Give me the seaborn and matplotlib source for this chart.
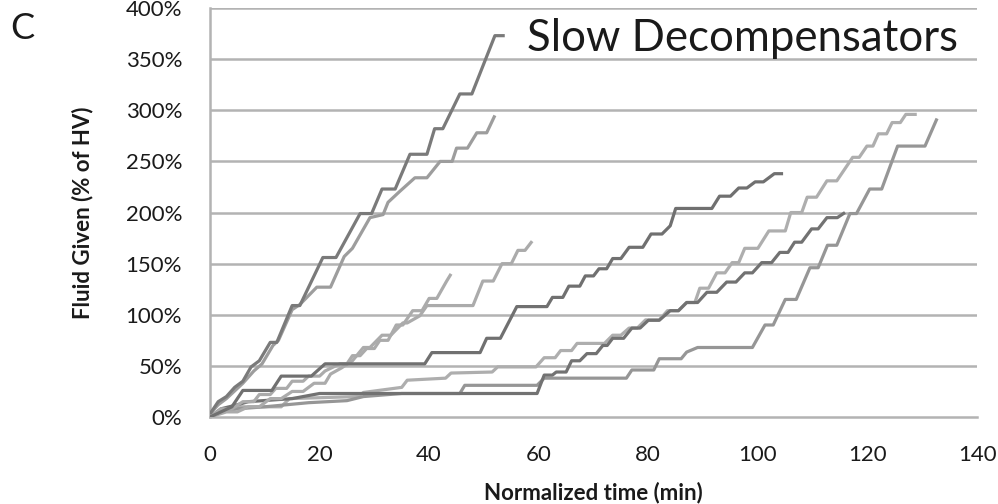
import matplotlib
matplotlib.use("Agg")
import matplotlib.pyplot as plt
import seaborn as sns
import pandas as pd

# ---- data ----
a_t = [0, 1.5, 3, 4.5, 6, 7.5, 9, 11, 12.2, 15, 16.4, 20.6, 23, 27.4, 29.5, 31.4, 33.8, 36.5, 39.6, 41, 42.5, 45.6, 47.8, 52, 53.8]
a_v = [3, 15, 20, 29, 35, 49, 55, 73, 73, 109, 109, 156, 156, 199, 199, 223, 223, 257, 257, 282, 282, 316, 316, 373, 373]

b_t = [0, 1.5, 3, 5, 6, 8, 9.5, 11.5, 12.5, 15, 16.4, 19.5, 22, 24.5, 26, 29.2, 31.6, 32.5, 34.7, 37.4, 39.6, 42, 44.2, 45, 47, 48.7, 50.5, 52]
b_v = [3, 12, 18, 28, 33, 45, 52, 70, 75, 105, 110, 127, 127, 157, 165, 195, 198, 210, 221, 234, 234, 250, 250, 263, 263, 278, 278, 295]

c_t = [0, 2, 4, 6, 8, 9, 11, 12, 14, 15, 17, 18, 20, 21, 23.7, 25, 26, 27.4, 28.6, 30, 31, 32.5, 34, 35.2, 37, 38.7, 40, 41.4, 43.2, 44]
c_v = [0, 8, 8, 15, 15, 22, 22, 28, 28, 35, 35, 40, 40, 45, 52, 52, 60, 60, 67, 67, 75, 75, 90, 90, 104, 104, 116, 116, 133, 140]

d_t = [0, 3, 5, 7, 9, 11, 13, 15, 17, 19, 21, 22, 24, 26, 28, 29.2, 31.4, 33, 35.2, 36, 38.3, 39.6, 48, 49.8, 51.7, 53.3, 55, 56.2, 57.5, 58.8]
d_v = [0, 5, 5, 10, 10, 18, 18, 25, 25, 33, 33, 42, 48, 55, 68, 68, 80, 80, 92, 92, 99, 109, 109, 133, 133, 150, 150, 163, 163, 172]

e_t = [0, 2, 4, 6, 11.3, 13, 18.5, 21, 39.2, 40.5, 49.3, 50.5, 53, 56, 61.5, 62.5, 64.4, 65.5, 67.5, 68.5, 70, 71, 72.4, 73.5, 75, 76.5,
       79, 80.5, 82.5, 84, 85, 91.6, 93, 95, 96.5, 98, 99.5, 101, 103, 104.6]
e_v = [0, 5, 10, 26, 26, 40, 40, 52, 52, 63, 63, 77, 77, 108, 108, 117, 117, 128, 128, 138, 138, 145, 145, 155, 155, 166,
       166, 179, 179, 187, 204, 204, 216, 216, 224, 224, 230, 230, 238, 238]

f_t = [0, 2, 4, 13, 14.5, 27, 28, 35, 36, 43, 44, 51.5, 52.5, 59.5, 61, 63, 64, 66, 67, 72, 73.5, 75, 76.5, 78, 79.5, 82, 83.5,
       85.5, 87, 88.5, 89.4, 91, 92.5, 94, 95.3, 96.5, 97.6, 100, 102, 105, 106, 108, 109, 110.7, 112.6, 114.4, 117.3, 118.5,
       119.9, 121, 122, 123.5, 124.5, 126, 127, 129]
f_v = [0, 5, 10, 10, 18, 20, 24, 29, 36, 38, 43, 44, 49, 49, 58, 58, 65, 65, 72, 72, 80, 80, 87, 87, 95, 95, 104,
       104, 112, 112, 126, 126, 141, 141, 151, 151, 165, 165, 182, 182, 200, 200, 215, 215, 231, 231, 254, 254,
       265, 265, 277, 277, 288, 288, 296, 296]

g_t = [0, 2, 5, 7, 15, 18, 20, 59.7, 61, 62.5, 63.2, 65, 66, 67.5, 68.8, 70.5, 71.7, 72.5, 73.5, 75.5, 77, 78.5, 80, 82, 84,
       85.5, 87, 89, 90.7, 92.5, 94.3, 96, 97.6, 99, 100.7, 102.5, 104, 105.5, 106.7, 108, 109.8, 111, 112.6, 114.5, 115.9]
g_v = [0, 8, 12, 15, 18, 21, 23, 23, 41, 41, 44, 44, 55, 55, 62, 62, 70, 70, 77, 77, 87, 87, 94.6, 94.6, 104,
       104, 112, 112, 122, 122, 132, 132, 141, 141, 151, 151, 161, 161, 171, 171, 184, 184, 195, 195, 200]

h_t = [0, 2, 5, 10, 14, 18, 25, 28, 35, 45.6, 46.5, 59.7, 61, 76, 77, 81, 82, 86, 87, 89, 99, 101.3, 102.8, 105, 107, 109.5, 111,
       112.7, 114.4, 116.8, 118, 120.4, 122.6, 125.5, 130.5, 132.7]
h_v = [0, 5, 8, 10, 12, 14, 16, 20, 23, 23, 31, 31, 38, 38, 46, 46, 57, 57, 63.5, 68, 68, 90, 90, 115, 115, 146, 146,
       168, 168, 199, 199, 223, 223, 265, 265, 292]

series = {"A": (a_t, a_v), "B": (b_t, b_v), "C": (c_t, c_v), "D": (d_t, d_v),
          "E": (e_t, e_v), "F": (f_t, f_v), "G": (g_t, g_v), "H": (h_t, h_v)}
colors = {"A": "#7a7a7a", "B": "#9d9d9d", "C": "#ababab", "D": "#ababab",
          "E": "#707070", "F": "#aeaeae", "G": "#727272", "H": "#969696"}
order = ["F", "H", "G", "D", "C", "E", "B", "A"]

x_ticks = [0, 20, 40, 60, 80, 100, 120, 140]
y_ticks = [0, 50, 100, 150, 200, 250, 300, 350, 400]
y_labels = ["0%", "50%", "100%", "150%", "200%", "250%", "300%", "350%", "400%"]

rows = []
for name in order:
    t, v = series[name]
    for i, (ti, vi) in enumerate(zip(t, v)):
        rows.append({"patient": name, "time": ti, "fluid": vi, "idx": i})
df = pd.DataFrame(rows)

# ---- plot ----
sns.set_theme(style="white")
plt.rcParams["font.family"] = ["Lato", "DejaVu Sans"]

fig = plt.figure(figsize=(9.98, 5.04), dpi=100)
ax = fig.add_axes([0.2104, 0.1726, 0.7686, 0.8114])

grid_c = "#b3b3b3"
for yt in y_ticks[1:]:
    ax.axhline(yt, color=grid_c, lw=1.8, zorder=0)

sns.lineplot(data=df, x="time", y="fluid", hue="patient", hue_order=order,
             palette=colors, sort=False, estimator=None, units="patient",
             legend=False, linewidth=2.3, ax=ax, zorder=3)
for ln in ax.get_lines():
    ln.set_solid_joinstyle("round")
    ln.set_solid_capstyle("butt")

ax.set_xlim(0, 140)
ax.set_ylim(0, 400)
ax.set_xticks(x_ticks)
ax.set_xticklabels([str(v) for v in x_ticks])
ax.set_yticks(y_ticks)
ax.set_yticklabels(y_labels)

for s in ["top", "right"]:
    ax.spines[s].set_visible(False)
for s in ["left", "bottom"]:
    ax.spines[s].set_color(grid_c)
    ax.spines[s].set_linewidth(1.8)
    ax.spines[s].set_zorder(1)

ax.tick_params(axis="x", direction="out", length=7, width=1.8, color=grid_c,
               labelsize=16, labelcolor="#1a1a1a", pad=13)
ax.tick_params(axis="y", direction="out", length=8, width=1.8, color=grid_c,
               labelsize=16, labelcolor="#1a1a1a", pad=12)

ax.set_xlabel("Normalized time (min)", fontsize=16, fontweight="bold", color="#1a1a1a", labelpad=12)
ax.set_ylabel("Fluid Given (% of HV)", fontsize=16, fontweight="bold", color="#1a1a1a", labelpad=23)

ax.text(0.413, 0.925, "Slow Decompensators", transform=ax.transAxes, fontsize=31.5,
        color="#1a1a1a", ha="left", va="center")
fig.text(0.01, 0.943, "C", fontsize=26, color="#1a1a1a", ha="left", va="center")

fig.savefig("out.png", dpi=100)
